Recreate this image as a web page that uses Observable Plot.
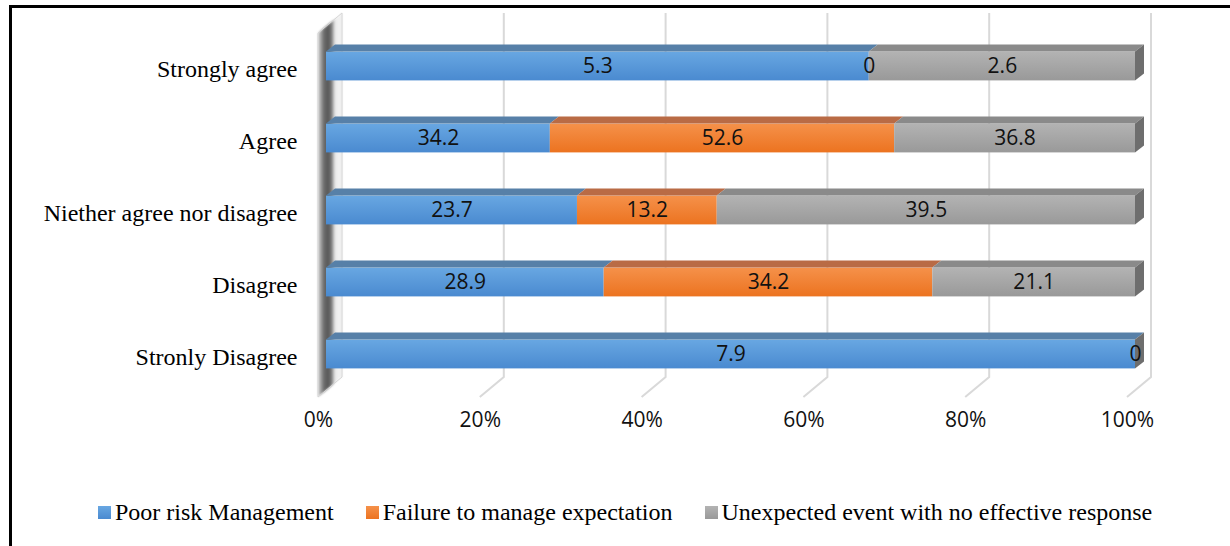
<!DOCTYPE html>
<html>
<head>
<meta charset="utf-8">
<script src="https://cdn.jsdelivr.net/npm/d3@7"></script>
<script src="https://cdn.jsdelivr.net/npm/@observablehq/plot@0.6"></script>
<style>
html, body { margin: 0; padding: 0; background: #fff; }
#wrap { position: relative; width: 1230px; height: 546px; overflow: hidden; background: #fff; }
#chart { position: absolute; left: 0; top: 0; }
#frameTop { position: absolute; left: 9px; top: 5px; right: 0; height: 3px; background: #000; }
#frameLeft { position: absolute; left: 9px; top: 5px; width: 3px; bottom: 0; background: #000; }
#legend { position: absolute; left: 98px; top: 496px; height: 32px; display: flex; align-items: center;
  font-family: "Liberation Serif", "Times New Roman", serif; font-size: 24px; color: #000; white-space: nowrap; }
#legend .item { display: flex; align-items: center; margin-right: 32px; }
#legend .sw { width: 13px; height: 13px; margin-right: 4px; }
</style>
</head>
<body>
<div id="wrap">
  <div id="chart"></div>
  <div id="frameTop"></div>
  <div id="frameLeft"></div>
  <div id="legend"></div>
</div>
<script>
// ---- data ----
const categories = ["Strongly agree", "Agree", "Niether agree nor disagree", "Disagree", "Stronly Disagree"];
const series = ["Poor risk Management", "Failure to manage expectation", "Unexpected event with no effective response"];
const poorRisk = [5.3, 34.2, 23.7, 28.9, 7.9];
const failureExpect = [0, 52.6, 13.2, 34.2, 0];
const unexpected = [2.6, 36.8, 39.5, 21.1, null];
const xTicks = [0, 0.2, 0.4, 0.6, 0.8, 1];
const xTickLabels = ["0%", "20%", "40%", "60%", "80%", "100%"];

// ---- styles ----
const frontGrad = [["#68a7e2", "#4a8ad0"], ["#f5914a", "#ec7320"], ["#b3b3b3", "#999999"]];
const topColors = ["#5780a8", "#b96b45", "#8a8a8a"];
const sideColor = "#6e6e6e";
const gradIds = ["gBlue", "gOrange", "gGray"];
const W = 1230, H = 460, MT = 29, MB = 70, ML = 326, MR = 95;
const INSET = 21.6, DX = 9, DY = 7;
const sansFont = "'Open Sans', 'Liberation Sans', sans-serif";
const serifFont = "'Liberation Serif', 'Times New Roman', serif";

const valuesBySeries = [poorRisk, failureExpect, unexpected];
const rows = [];
categories.forEach((c, i) => {
  series.forEach((s, j) => {
    const v = valuesBySeries[j][i];
    if (v != null) rows.push({cat: c, series: s, si: j, value: v});
  });
});

// defs (gradients)
function defsMark() {
  const defs = d3.create("svg:defs");
  gradIds.forEach((id, j) => {
    const g = defs.append("linearGradient").attr("id", id).attr("x1", 0).attr("y1", 0).attr("x2", 0).attr("y2", 1);
    g.append("stop").attr("offset", 0).attr("stop-color", frontGrad[j][0]);
    g.append("stop").attr("offset", 1).attr("stop-color", frontGrad[j][1]);
  });
  const w = defs.append("linearGradient").attr("id", "gWall").attr("x1", 0).attr("y1", 0).attr("x2", 1).attr("y2", 0);
  [[0, "#d4d4d4"], [0.08, "#b2b2b2"], [0.25, "#696969"], [0.45, "#585858"], [0.6, "#8c8c8c"], [0.68, "#d8d8d8"], [0.76, "#eeeeee"], [0.96, "#f3f3f3"], [1, "#d0d0d0"]]
    .forEach(([o, c]) => w.append("stop").attr("offset", o).attr("stop-color", c));
  const f = defs.append("filter").attr("id", "fBlur").attr("x", "-20%").attr("y", "-5%").attr("width", "140%").attr("height", "110%");
  f.append("feGaussianBlur").attr("stdDeviation", 1.2);
  return defs.node();
}

function bandInfo(y) {
  return typeof y.bandwidth === "function" ? y.bandwidth() : (y(categories[1]) - y(categories[0]));
}

// wall + gridlines
function backMark(index, scales, values, dims) {
  const x = scales.x;
  const g = d3.create("svg:g");
  const top = dims.marginTop - 16;
  const fb = dims.height - dims.marginBottom;
  const backBottom = fb - 13, frontBottom = fb + 7;
  xTicks.forEach(t => {
    if (t === 0) return;
    const xb = x(t) + 16, xf = x(t) - 8;
    g.append("path").attr("d", `M${xb},${top}L${xb},${backBottom}L${xf},${frontBottom}`)
      .attr("fill", "none").attr("stroke", "#d9d9d9").attr("stroke-width", 2);
  });
  const x0 = x(0);
  const wall = `M${x0 + 16},${top}L${x0 + 16},${backBottom}L${x0 - 8},${frontBottom}L${x0 - 8},${top + 20}Z`;
  g.append("path").attr("d", wall).attr("fill", "url(#gWall)").attr("filter", "url(#fBlur)");
  g.append("path").attr("d", wall).attr("fill", "none").attr("stroke", "#d6d6d6").attr("stroke-width", 1);
  return g.node();
}

// 3D top and side faces
function facesMark(index, scales, values, dims) {
  const x = scales.x, y = scales.y;
  const bw = bandInfo(y);
  const g = d3.create("svg:g");
  categories.forEach((c, i) => {
    const vals = valuesBySeries.map(a => a[i]);
    const total = d3.sum(vals, v => v == null ? 0 : v);
    const yt = y(c) + INSET, yb = y(c) + bw - INSET;
    let cum = 0;
    vals.forEach((v, j) => {
      if (v == null) return;
      const x1 = x(cum / total), x2 = x((cum + v) / total);
      cum += v;
      if (v <= 0) return;
      g.append("path").attr("d", `M${x1},${yt}L${x2},${yt}L${x2 + DX},${yt - DY}L${x1 + DX},${yt - DY}Z`)
        .attr("fill", topColors[j]);
    });
    const xr = x(1);
    g.append("path").attr("d", `M${xr},${yt}L${xr + DX},${yt - DY}L${xr + DX},${yb - DY}L${xr},${yb}Z`)
      .attr("fill", sideColor);
  });
  return g.node();
}

const chart = Plot.plot({
  width: W, height: H,
  marginTop: MT, marginBottom: MB, marginLeft: ML, marginRight: MR,
  style: {background: "transparent", overflow: "visible"},
  x: {domain: [0, 1], axis: null},
  y: {domain: categories, padding: 0, axis: null},
  color: {domain: series, range: gradIds.map(id => `url(#${id})`)},
  marks: [
    defsMark,
    backMark,
    Plot.barX(rows, Plot.stackX({x: "value", y: "cat", fill: "series", offset: "normalize", insetTop: INSET, insetBottom: INSET})),
    facesMark,
    Plot.text(rows, Plot.stackX({x: "value", y: "cat", offset: "normalize", text: d => String(d.value),
      fontFamily: sansFont, fontSize: 21, fill: "#111"})),
    Plot.text(categories, {y: d => d, text: d => d, frameAnchor: "left", textAnchor: "end", dx: -29, dy: 3,
      fontFamily: serifFont, fontSize: 24, fill: "#000"}),
    Plot.text(xTicks, {x: d => d, text: (d, i) => xTickLabels[i], frameAnchor: "bottom", dx: -8, dy: 36,
      fontFamily: sansFont, fontSize: 21, fill: "#111"})
  ]
});
document.getElementById("chart").appendChild(chart);

// legend
const legend = d3.select("#legend");
series.forEach((s, j) => {
  const it = legend.append("div").attr("class", "item");
  it.append("div").attr("class", "sw").style("background", `linear-gradient(${frontGrad[j][0]}, ${frontGrad[j][1]})`);
  it.append("span").text(s);
});
</script>
</body>
</html>
